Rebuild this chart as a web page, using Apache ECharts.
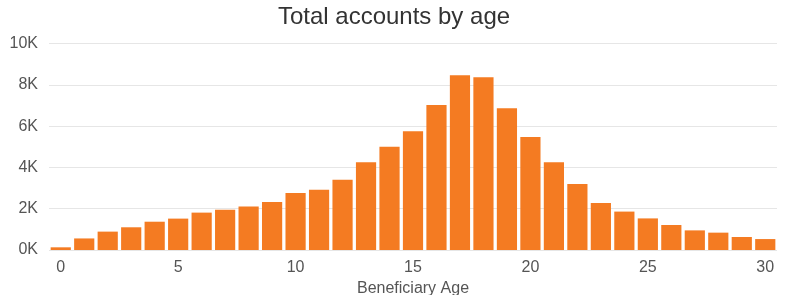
<!DOCTYPE html>
<html>
<head>
<meta charset="utf-8">
<script src="https://cdn.jsdelivr.net/npm/echarts@6/dist/echarts.min.js"></script>
<style>
html, body { margin: 0; padding: 0; background: #fff; }
#chart { width: 788px; height: 295px; }
</style>
</head>
<body>
<div id="chart"></div>
<script>
// ages 0..30
var ages = [];
for (var a = 0; a <= 30; a++) ages.push(String(a));

// accounts per age
var accounts = [130, 560, 890, 1100, 1370, 1520, 1810, 1950, 2110, 2320,
	2760, 2920, 3400, 4250, 5000, 5750, 7020, 8460, 8360, 6860,
	5470, 4250, 3200, 2280, 1860, 1530, 1210, 950, 840, 630, 530];

var yTicks = [0, 2000, 4000, 6000, 8000, 10000];

var chart = echarts.init(document.getElementById('chart'));
chart.setOption({
	animation: false,
	textStyle: { fontFamily: 'Liberation Sans, Arial, sans-serif' },
	title: {
		text: 'Total accounts by age',
		left: 'center',
		top: 0,
		textStyle: { fontSize: 24, fontWeight: 'normal', color: '#333' }
	},
	grid: { left: 49, right: 11, top: 43.5, bottom: 45, outerBoundsMode: 'none', containLabel: false },
	xAxis: {
		type: 'category',
		data: ages,
		name: 'Beneficiary Age',
		nameLocation: 'middle',
		nameGap: 25,
		nameTextStyle: { fontSize: 16, color: '#555' },
		axisLine: { show: false },
		axisTick: { show: false },
		axisLabel: { interval: 4, fontSize: 16, color: '#555', margin: 10 }
	},
	yAxis: {
		type: 'value',
		min: yTicks[0],
		max: yTicks[yTicks.length - 1],
		interval: 2000,
		axisLine: { show: false },
		axisTick: { show: false },
		splitLine: { lineStyle: { color: '#e6e6e6', width: 1 } },
		axisLabel: {
			fontSize: 16, color: '#555', margin: 11,
			formatter: function(v) { return (v / 1000) + 'K'; }
		}
	},
	series: [{
		type: 'bar',
		data: accounts,
		barCategoryGap: '14%',
		itemStyle: { color: '#F47B22' }
	}]
});
</script>
</body>
</html>
